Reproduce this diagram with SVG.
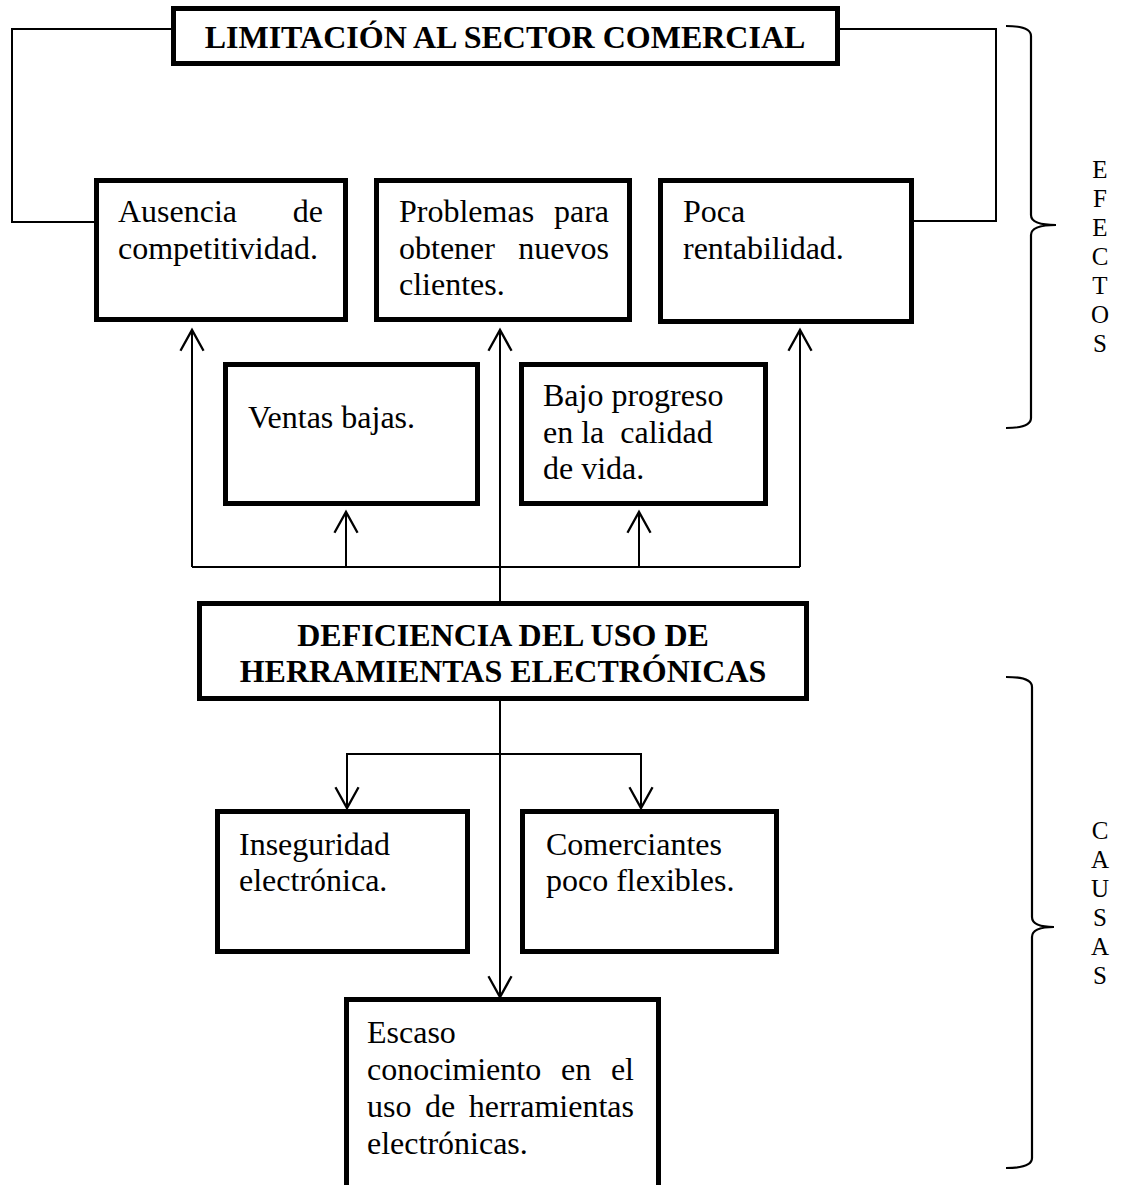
<svg xmlns="http://www.w3.org/2000/svg" width="1128" height="1185" viewBox="0 0 1128 1185">
<style>
  .box { fill: #fff; stroke: #000; stroke-width: 5; }
  .t { font-family: "Liberation Serif", "Times New Roman", serif; font-size: 32px; fill: #000; }
  .b { font-weight: bold; }
  .c { text-anchor: middle; }
  .e { text-anchor: end; }
  .ln { fill: none; stroke: #000; stroke-width: 2; }
  .br { fill: none; stroke: #000; stroke-width: 2.2; }
  .lt { font-family: "Liberation Serif", "Times New Roman", serif; font-size: 25px; fill: #000; text-anchor: middle; }
</style>
<defs>
  <marker id="ah" markerUnits="userSpaceOnUse" markerWidth="30" markerHeight="30" viewBox="-22 -13 26 26" refX="0" refY="0" orient="auto" overflow="visible">
    <path d="M -18 -10 L 0 0 L -18 10" fill="none" stroke="#000" stroke-width="2"/>
  </marker>
</defs>

<g id="connectors">
  <path class="ln" d="M 171 29 H 12 V 222 H 94"/>
  <path class="ln" d="M 840 29 H 996 V 221 H 914"/>
  <path class="ln" d="M 192 567 H 800"/>
  <path class="ln" d="M 192 567 V 330" marker-end="url(#ah)"/>
  <path class="ln" d="M 346 567 V 512" marker-end="url(#ah)"/>
  <path class="ln" d="M 500 601 V 330" marker-end="url(#ah)"/>
  <path class="ln" d="M 639 567 V 512" marker-end="url(#ah)"/>
  <path class="ln" d="M 800 567 V 330" marker-end="url(#ah)"/>
  <path class="ln" d="M 500 701 V 997" marker-end="url(#ah)"/>
  <path class="ln" d="M 500 754 H 347 V 808" marker-end="url(#ah)"/>
  <path class="ln" d="M 500 754 H 641 V 808" marker-end="url(#ah)"/>
</g>

<g id="limitacion">
  <rect class="box" x="173.5" y="8.5" width="664" height="55"/>
  <text class="t b c" x="505" y="48">LIMITACIÓN AL SECTOR COMERCIAL</text>
</g>

<g id="ausencia">
  <rect class="box" x="96.5" y="180.5" width="249" height="139"/>
  <text class="t" x="118" y="222">Ausencia</text>
  <text class="t e" x="323" y="222">de</text>
  <text class="t" x="118" y="259">competitividad.</text>
</g>

<g id="problemas">
  <rect class="box" x="376.5" y="180.5" width="253" height="139"/>
  <text class="t" x="399" y="222">Problemas</text>
  <text class="t e" x="609" y="222">para</text>
  <text class="t" x="399" y="259">obtener</text>
  <text class="t e" x="609" y="259">nuevos</text>
  <text class="t" x="399" y="295">clientes.</text>
</g>

<g id="poca">
  <rect class="box" x="660.5" y="180.5" width="251" height="141"/>
  <text class="t" x="683" y="222">Poca</text>
  <text class="t" x="683" y="259">rentabilidad.</text>
</g>

<g id="ventas">
  <rect class="box" x="225.5" y="364.5" width="252" height="139"/>
  <text class="t" x="248" y="428">Ventas bajas.</text>
</g>

<g id="bajo">
  <rect class="box" x="521.5" y="364.5" width="244" height="139"/>
  <text class="t" x="543" y="406">Bajo progreso</text>
  <text class="t" x="543" y="443" xml:space="preserve">en la  calidad</text>
  <text class="t" x="543" y="479">de vida.</text>
</g>

<g id="deficiencia">
  <rect class="box" x="199.5" y="603.5" width="607" height="95"/>
  <text class="t b c" x="503" y="646">DEFICIENCIA DEL USO DE</text>
  <text class="t b c" x="503" y="682">HERRAMIENTAS ELECTRÓNICAS</text>
</g>

<g id="inseguridad">
  <rect class="box" x="217.5" y="811.5" width="250" height="140"/>
  <text class="t" x="239" y="855">Inseguridad</text>
  <text class="t" x="239" y="891">electrónica.</text>
</g>

<g id="comerciantes">
  <rect class="box" x="522.5" y="811.5" width="254" height="140"/>
  <text class="t" x="546" y="855">Comerciantes</text>
  <text class="t" x="546" y="891">poco flexibles.</text>
</g>

<g id="escaso">
  <rect class="box" x="346.5" y="999.5" width="312" height="200"/>
  <text class="t" x="367" y="1043">Escaso</text>
  <text class="t" x="367" y="1080">conocimiento</text>
  <text class="t" x="561" y="1080">en</text>
  <text class="t e" x="634" y="1080">el</text>
  <text class="t" x="367" y="1117">uso</text>
  <text class="t" x="425" y="1117">de</text>
  <text class="t e" x="634" y="1117">herramientas</text>
  <text class="t" x="367" y="1154">electrónicas.</text>
</g>

<g id="efectos">
  <path class="br" d="M 1006 26 Q 1031 26 1031 36 L 1031 215 Q 1031 225 1056 225 Q 1031 225 1031 235 L 1031 418 Q 1031 428 1006 428"/>
  <text class="lt" x="1100" y="178">E</text>
  <text class="lt" x="1100" y="207">F</text>
  <text class="lt" x="1100" y="236">E</text>
  <text class="lt" x="1100" y="265">C</text>
  <text class="lt" x="1100" y="294">T</text>
  <text class="lt" x="1100" y="323">O</text>
  <text class="lt" x="1100" y="352">S</text>
</g>

<g id="causas">
  <path class="br" d="M 1006 677 Q 1032 677 1032 687 L 1032 917 Q 1032 927 1054 927 Q 1032 927 1032 937 L 1032 1158 Q 1032 1168 1006 1168"/>
  <text class="lt" x="1100" y="839">C</text>
  <text class="lt" x="1100" y="868">A</text>
  <text class="lt" x="1100" y="897">U</text>
  <text class="lt" x="1100" y="926">S</text>
  <text class="lt" x="1100" y="955">A</text>
  <text class="lt" x="1100" y="984">S</text>
</g>
</svg>
